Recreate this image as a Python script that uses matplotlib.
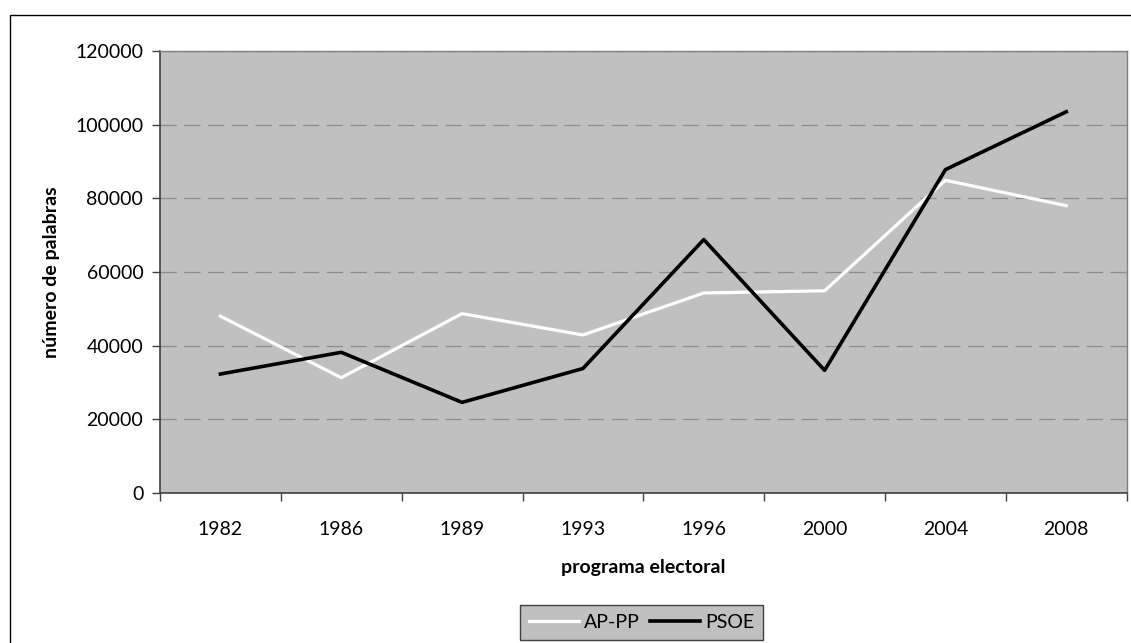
import matplotlib
matplotlib.use("Agg")
import matplotlib.pyplot as plt
from matplotlib.patches import Rectangle
import numpy as np

years = ["1982", "1986", "1989", "1993", "1996", "2000", "2004", "2008"]
ap_pp = [48000, 31300, 48700, 42900, 54300, 54900, 84900, 78000]
psoe = [32300, 38200, 24600, 33800, 68800, 33300, 87800, 103500]
y_ticks = [0, 20000, 40000, 60000, 80000, 100000, 120000]

plt.rcParams['font.family'] = ['Lato', 'DejaVu Sans']
FS = 14

W, H = 1131, 643
fig = plt.figure(figsize=(W / 100, H / 100), dpi=100)
fig.patch.set_facecolor("white")

# outer chart frame
fig.patches.append(Rectangle((10 / W, -0.05), 1.2, 1 - 15 / H + 0.05,
                             transform=fig.transFigure, fill=False,
                             edgecolor="black", linewidth=1.0, zorder=0))

left, right, top, bottom = 160, 1126.7, 51, 493
ax = fig.add_axes([left / W, 1 - bottom / H, (right - left) / W, (bottom - top) / H])
ax.set_facecolor("#C0C0C0")

x = np.arange(len(years))
ax.plot(x, ap_pp, color="white", linewidth=2.3, label="AP-PP", zorder=3)
ax.plot(x, psoe, color="black", linewidth=2.6, label="PSOE", zorder=4)

ax.set_xlim(-0.5, len(years) - 0.5)
ax.set_ylim(0, 120000)
ax.set_yticks(y_ticks)
ax.set_yticklabels([str(v) for v in y_ticks], fontsize=FS, color="black")
ax.yaxis.grid(True, color="#8c8c8c", linestyle=(0, (13, 6)), linewidth=0.9)
ax.set_axisbelow(True)

ax.set_xticks(x)
ax.set_xticklabels(years, fontsize=FS)
ax.tick_params(axis="x", which="major", length=0, pad=20)
ax.set_xticks(np.arange(len(years) + 1) - 0.5, minor=True)
ax.tick_params(axis="x", which="minor", length=6, width=1, color="#404040", direction="out")
ax.tick_params(axis="y", length=6, width=1, color="#404040", direction="out", pad=6)

for s in ("left", "bottom"):
    ax.spines[s].set_color("#404040")
    ax.spines[s].set_linewidth(1.2)
for s in ("top", "right"):
    ax.spines[s].set_color("#808080")
    ax.spines[s].set_linewidth(1.0)

ax.set_xlabel("programa electoral", fontsize=FS, fontweight="bold", labelpad=15)
ax.set_ylabel("número de palabras", fontsize=FS, fontweight="bold", labelpad=11)

leg = fig.legend(loc="upper center", bbox_to_anchor=(641.5 / W, 1 - 605 / H),
                 ncol=2, fontsize=FS, frameon=True, fancybox=False,
                 handlelength=2.6, handletextpad=0.25, columnspacing=0.5,
                 borderpad=0.45, borderaxespad=0)
frame = leg.get_frame()
frame.set_facecolor("#C0C0C0")
frame.set_edgecolor("#404040")
frame.set_linewidth(1.0)
frame.set_alpha(1)

fig.savefig("out.png", dpi=100, facecolor="white")
